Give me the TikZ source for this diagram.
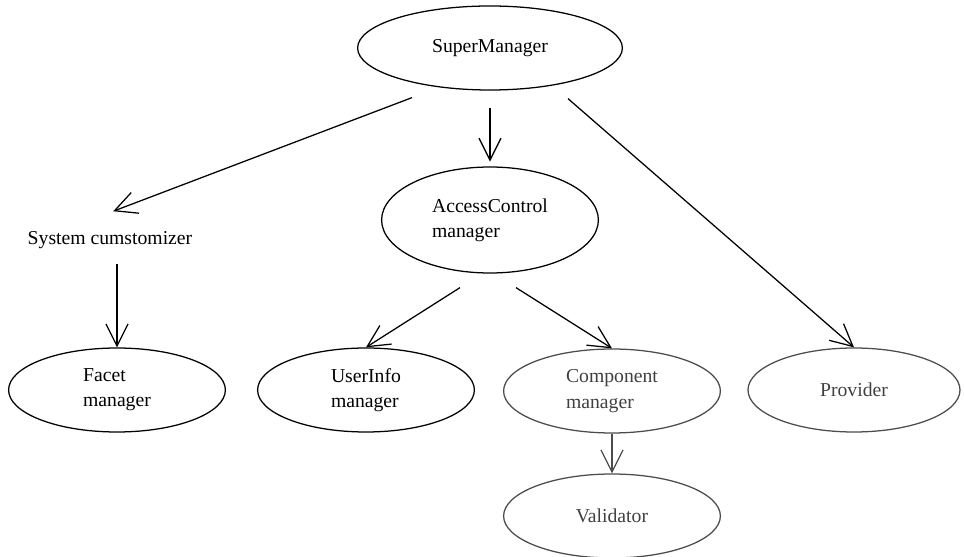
\documentclass[tikz,border=0pt]{standalone}
\usepackage{fontspec}
\setmainfont{Liberation Serif}
\usetikzlibrary{arrows.meta,shapes.geometric}

\begin{document}
\begin{tikzpicture}[->,>={Straight Barb[length=5.5mm,width=5.5mm]},line width=0.9pt,
        font=\fontsize{14}{18}\selectfont,
        mgr/.style={ellipse,draw,align=left,minimum width=5.42cm,minimum height=2.1cm,inner sep=0pt},
        faded/.style={draw=black!70,text=black!75}]

  \useasboundingbox (-12.25,1.2) rectangle (11.85,-12.725);

  \node[mgr,minimum width=6.62cm] (super) {SuperManager};
  \node[mgr,minimum height=2.65cm] (access) [below of=super,node distance=4.3cm] {AccessControl\\manager};
  \node (sys) [below of=super,node distance=4.8cm,xshift=-9.5cm] {System cumstomizer};
  \node[mgr] (facet) [below of=sys,node distance=3.75cm,xshift=0.175cm] {Facet\\manager};
  \node[mgr] (user) [below of=access,node distance=4.25cm,xshift=-3.1cm] {UserInfo\\manager};
  \node[mgr,faded] (comp) [below of=access,node distance=4.275cm,xshift=3.05cm] {Component\\manager};
  \node[mgr,faded,minimum width=5.3cm] (prov) [below of=super,node distance=8.55cm,xshift=9.1cm] {Provider};
  \node[mgr,faded] (valid) [below of=comp,node distance=3.125cm] {Validator};

  \draw ([xshift=-1.95cm,yshift=-0.175cm]super.south) -- ([xshift=0.08cm,yshift=0.37cm]sys.north);
  \draw ([yshift=-0.425cm]super.south) -- ([yshift=0.12cm]access.north);
  \draw ([xshift=1.95cm,yshift=-0.2cm]super.south) -- (prov.north);
  \draw ([xshift=0.175cm,yshift=-0.25cm]sys.south) -- (facet.north);
  \draw ([xshift=-0.75cm,yshift=-0.35cm]access.south) -- (user.north);
  \draw ([xshift=0.65cm,yshift=-0.35cm]access.south) -- (comp.north);
  \draw[black!70] (comp) -- (valid);

\end{tikzpicture}
\end{document}
